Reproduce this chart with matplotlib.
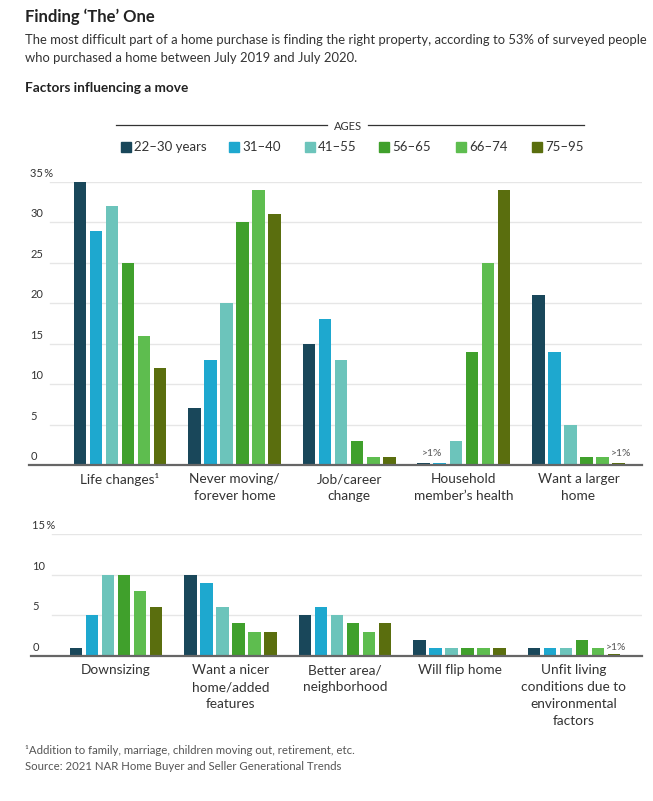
import matplotlib
matplotlib.use("Agg")
from matplotlib import pyplot as plt
from matplotlib.patches import Rectangle
from matplotlib.lines import Line2D
from matplotlib import transforms

plt.rcParams['font.family'] = ['Lato', 'DejaVu Sans']

ages = ["22\u201330 years", "31\u201340", "41\u201355", "56\u201365", "66\u201374", "75\u201395"]
colors = ["#19475a", "#1ea8cf", "#6cc4bb", "#40a02c", "#5ebd4f", "#5a6e0e"]

top_factors = ["Life changes\u00b9", "Never moving/\nforever home", "Job/career\nchange",
               "Household\nmember\u2019s health", "Want a larger\nhome"]
top_values = [
    [35, 7, 15, 0.25, 21],   # 22-30
    [29, 13, 18, 0.25, 14],  # 31-40
    [32, 20, 13, 3, 5],      # 41-55
    [25, 30, 3, 14, 1],      # 56-65
    [16, 34, 1, 25, 1],      # 66-74
    [12, 31, 1, 34, 0.25],   # 75-95
]

bottom_factors = ["Downsizing", "Want a nicer\nhome/added\nfeatures", "Better area/\nneighborhood",
                  "Will flip home", "Unfit living\nconditions due to\nenvironmental\nfactors"]
bottom_values = [
    [1, 10, 5, 2, 1],
    [5, 9, 6, 1, 1],
    [10, 6, 5, 1, 1],
    [10, 4, 4, 1, 2],
    [8, 3, 3, 1, 1],
    [6, 3, 4, 1, 0.25],
]

top_ticks = [0, 5, 10, 15, 20, 25, 30, 35]
bottom_ticks = [0, 5, 10, 15]

W, H = 653, 801
fig = plt.figure(figsize=(W / 100, H / 100), dpi=100)


def fx(x):
    return x / W


def fy(y):
    return 1 - y / H


TEXT = "#333333"
GRID = "#e6e6e6"
PITCH = 0.14
WIDTH = 0.109
PX_PER_UNIT = 8.08


def draw_panel(rect, factors, values, ticks, xlim):
    ax = fig.add_axes(rect)
    for j, series in enumerate(values):
        xs = [i + (j - 2.5) * PITCH for i in range(len(factors))]
        ax.bar(xs, series, width=WIDTH, color=colors[j], zorder=3)
    ax.set_xlim(*xlim)
    ax.set_ylim(0, ticks[-1])
    for s in ax.spines.values():
        s.set_visible(False)
    ax.axhline(0, color="#666666", lw=1.6, zorder=4, clip_on=False)
    trans = transforms.blended_transform_factory(ax.transAxes, ax.transData)
    for t in ticks:
        if t > 0:
            ax.axhline(t, xmin=0.035, xmax=1, color=GRID, lw=1, zorder=1)
        lab = f"{t}\u2009%" if t == ticks[-1] else str(t)
        ax.text(0.002, t + 3 / PX_PER_UNIT, lab, transform=trans, ha="left",
                va="bottom", fontsize=8, color=TEXT)
    ax.set_yticks([])
    ax.set_xticks(range(len(factors)))
    ax.set_xticklabels(factors, fontsize=9.8, color=TEXT, linespacing=1.5)
    ax.tick_params(axis="x", length=0, pad=6)
    return ax


ax1 = draw_panel([fx(29), fy(465), fx(642) - fx(29), (465 - 182) / H],
                 top_factors, top_values, top_ticks, (-0.794, 4.555))
ax2 = draw_panel([fx(31), fy(656), fx(642) - fx(31), (656 - 534) / H],
                 bottom_factors, bottom_values, bottom_ticks, (-0.742, 4.594))

small = dict(fontsize=7.5, color="#555555", ha="center", va="bottom")
ax1.text(3 - 2 * PITCH, 0.9, ">1%", **small)
ax1.text(4 + 2.5 * PITCH + 0.02, 0.9, ">1%", **small)
ax2.text(4 + 2.5 * PITCH + 0.02, 0.45, ">1%", **small)

# header
fig.text(fx(25), fy(17), "Finding \u2018The\u2019 One", fontsize=12, fontweight="bold",
         color="#222222", va="center")
fig.text(fx(25), fy(40), "The most difficult part of a home purchase is finding the right property, "
         "according to 53% of surveyed people", fontsize=9.4, color=TEXT, va="center")
fig.text(fx(25), fy(58), "who purchased a home between July 2019 and July 2020.",
         fontsize=9.4, color=TEXT, va="center")
fig.text(fx(25), fy(88), "Factors influencing a move", fontsize=9.8, fontweight="bold",
         color="#222222", va="center")

# legend
fig.text(fx(348), fy(126), "AGES", fontsize=8, color=TEXT, ha="center", va="center")
fig.add_artist(Line2D([fx(116), fx(327)], [fy(125), fy(125)], color="#333333", lw=0.9))
fig.add_artist(Line2D([fx(368), fx(584)], [fy(125), fy(125)], color="#333333", lw=0.9))
sq_x = [121, 229, 305, 379, 456, 532]
for j, lab in enumerate(ages):
    fig.add_artist(Rectangle((fx(sq_x[j]), fy(152)), 10 / W, 10 / H, color=colors[j]))
    fig.text(fx(sq_x[j] + 13), fy(147), lab, fontsize=9.5, color=TEXT, va="center")

# footnotes
fig.text(fx(25), fy(751), "\u00b9Addition to family, marriage, children moving out, retirement, etc.",
         fontsize=8.2, color="#555555", va="center")
fig.text(fx(25), fy(767), "Source: 2021 NAR Home Buyer and Seller Generational Trends",
         fontsize=8.2, color="#555555", va="center")

fig.savefig("out.png", dpi=100)
